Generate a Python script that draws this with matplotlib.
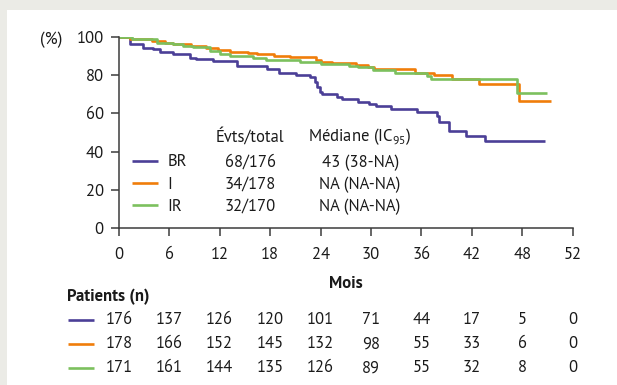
import numpy as np
import matplotlib
matplotlib.use('Agg')
from matplotlib import pyplot as plt
from matplotlib import font_manager as fm
from matplotlib.patches import Rectangle
from matplotlib.lines import Line2D
import matplotlib.transforms as mtransforms

# pick a Myriad-like sans face that has a regular and a bold weight
weights = {}
for f in fm.fontManager.ttflist:
    weights.setdefault(f.name, set()).add(f.weight)
face = 'Liberation Sans'
for cand in ['PT Sans', 'Source Sans Pro', 'Fira Sans Condensed', 'Roboto Condensed',
             'Liberation Sans Narrow']:
    w = weights.get(cand, set())
    if 400 in w and 700 in w:
        face = cand
        break
plt.rcParams['font.family'] = [face, 'DejaVu Sans']
plt.rcParams['mathtext.fontset'] = 'custom'
plt.rcParams['mathtext.rm'] = face

# data
groups = ['BR', 'I', 'IR']
colors = ['#4b3f97', '#f07d0a', '#7cc05e']
events = ['68/176', '34/178', '32/170']
medians = ['43 (38-NA)', 'NA (NA-NA)', 'NA (NA-NA)']

br_t = [0, 1.3, 2.9, 4.0, 4.9, 6.4, 8.4, 9.2, 11.2, 14.0, 17.6, 19.1, 21.1, 22.7,
        23.3, 23.6, 23.9, 24.2, 26.0, 26.6, 28.4, 29.8, 30.6, 32.4, 35.5, 37.9,
        38.1, 39.3, 41.3, 43.6, 50.7]
br_v = [100, 96.2, 94.4, 93.6, 92.2, 91.0, 89.2, 88.4, 87.5, 84.9, 83.2, 81.4,
        80.1, 78.8, 76.2, 73.6, 71.0, 70.2, 68.8, 67.6, 66.1, 64.9, 63.9, 62.3,
        60.6, 58.9, 55.4, 51.0, 48.4, 45.3, 45.3]

i_t = [0, 1.3, 3.9, 5.5, 6.4, 8.6, 10.4, 11.8, 13.2, 15.3, 16.4, 18.5, 20.3,
       23.5, 24.1, 25.3, 28.2, 29.6, 30.4, 35.2, 37.5, 39.6, 42.9, 47.6, 51.4]
i_v = [100, 98.8, 97.9, 97.0, 96.2, 95.3, 94.4, 93.2, 92.3, 91.5, 91.0, 90.1,
       89.6, 87.9, 87.1, 86.5, 85.4, 84.5, 83.0, 81.4, 80.0, 77.9, 75.4, 66.7, 66.7]

ir_t = [0, 1.5, 4.5, 6.4, 7.6, 8.8, 10.8, 12.0, 13.2, 15.9, 17.5, 21.5, 24.1,
        27.4, 28.4, 30.2, 32.8, 36.7, 37.1, 47.4, 50.9]
ir_v = [100, 98.8, 97.0, 96.2, 95.3, 94.8, 92.7, 91.0, 90.1, 89.2, 87.9, 87.0,
        85.8, 84.9, 84.1, 82.8, 81.1, 79.7, 78.0, 70.5, 70.5]

tick_pos = np.arange(0, 55, 6)
tick_labels = ['0', '6', '12', '18', '24', '30', '36', '42', '48', '52']
at_risk = [[176, 137, 126, 120, 101, 71, 44, 17, 5, 0],
           [178, 166, 152, 145, 132, 98, 55, 33, 6, 0],
           [171, 161, 144, 135, 126, 89, 55, 32, 8, 0]]

W, H = 617, 385
fs = 12
ink = '#1a1a1a'
fig = plt.figure(figsize=(W / 100, H / 100), dpi=100)
fig.patch.set_facecolor('#ebebe6')
fig.patches.append(Rectangle((7 / W, 0), 1, 1 - 10 / H, transform=fig.transFigure,
                             facecolor='white', edgecolor='none', zorder=-10))

def fx(x):
    return x / W

def fy(y):
    return 1 - y / H

ax = fig.add_axes([fx(119), fy(228), fx(572.7) - fx(119), fy(37) - fy(228)])
ax.set_facecolor('none')

for t, v, c in zip([br_t, i_t, ir_t], [br_v, i_v, ir_v], colors):
    ax.step(t, v, where='post', color=c, lw=1.9, solid_capstyle='butt')

ax.set_xlim(0, 54)
ax.set_ylim(0, 100)
ax.set_xticks(tick_pos)
ax.set_xticklabels(tick_labels)
ax.set_yticks([0, 20, 40, 60, 80, 100])
for s in ['top', 'right']:
    ax.spines[s].set_visible(False)
for s in ['left', 'bottom']:
    ax.spines[s].set_color('#3c3c3c')
    ax.spines[s].set_linewidth(1.1)
ax.tick_params(direction='out', length=6, width=1.1, color='#3c3c3c',
               labelsize=fs, labelcolor=ink)
ax.tick_params(axis='x', pad=8)
ax.tick_params(axis='y', pad=5)

fig.text(fx(40), fy(40), '(%)', fontsize=fs, ha='left', va='center', color=ink)
fig.text(fx(346), fy(283), 'Mois', fontsize=fs, weight='bold', ha='center', va='center',
         color=ink)

# legend table inside the plot
ax.text(15.6, 47.9, 'Évts/total', fontsize=fs, ha='center', va='center', color=ink)
ax.text(28.7, 47.9, 'Médiane (IC$_{95}$)', fontsize=fs, ha='center', va='center',
        color=ink)
rows_v = [35.0, 23.4, 11.8]
for g, c, e, m, yv in zip(groups, colors, events, medians, rows_v):
    ax.plot([1.5, 4.6], [yv, yv], color=c, lw=1.9, solid_capstyle='butt')
    ax.text(5.8, yv - 0.7, g, fontsize=fs, ha='left', va='center', color=ink)
    ax.text(15.6, yv - 0.7, e, fontsize=fs, ha='center', va='center', color=ink)
    ax.text(28.7, yv - 0.7, m, fontsize=fs, ha='center', va='center', color=ink)

# number at risk table
fig.text(fx(67), fy(297), 'Patients (n)', fontsize=fs, weight='bold', ha='left',
         va='center', color=ink)
trans = mtransforms.blended_transform_factory(ax.transData, fig.transFigure)
rows_y = [320, 344, 368]
for c, counts, yp in zip(colors, at_risk, rows_y):
    fig.add_artist(Line2D([fx(68), fx(94)], [fy(yp), fy(yp)], color=c, lw=1.9,
                          solid_capstyle='butt', transform=fig.transFigure))
    for xp, n in zip(tick_pos, counts):
        ax.text(xp, fy(yp + 0.5), str(n), transform=trans, fontsize=fs,
                ha='center', va='center', color=ink, clip_on=False)

fig.savefig('out.png', dpi=100, facecolor=fig.get_facecolor())
